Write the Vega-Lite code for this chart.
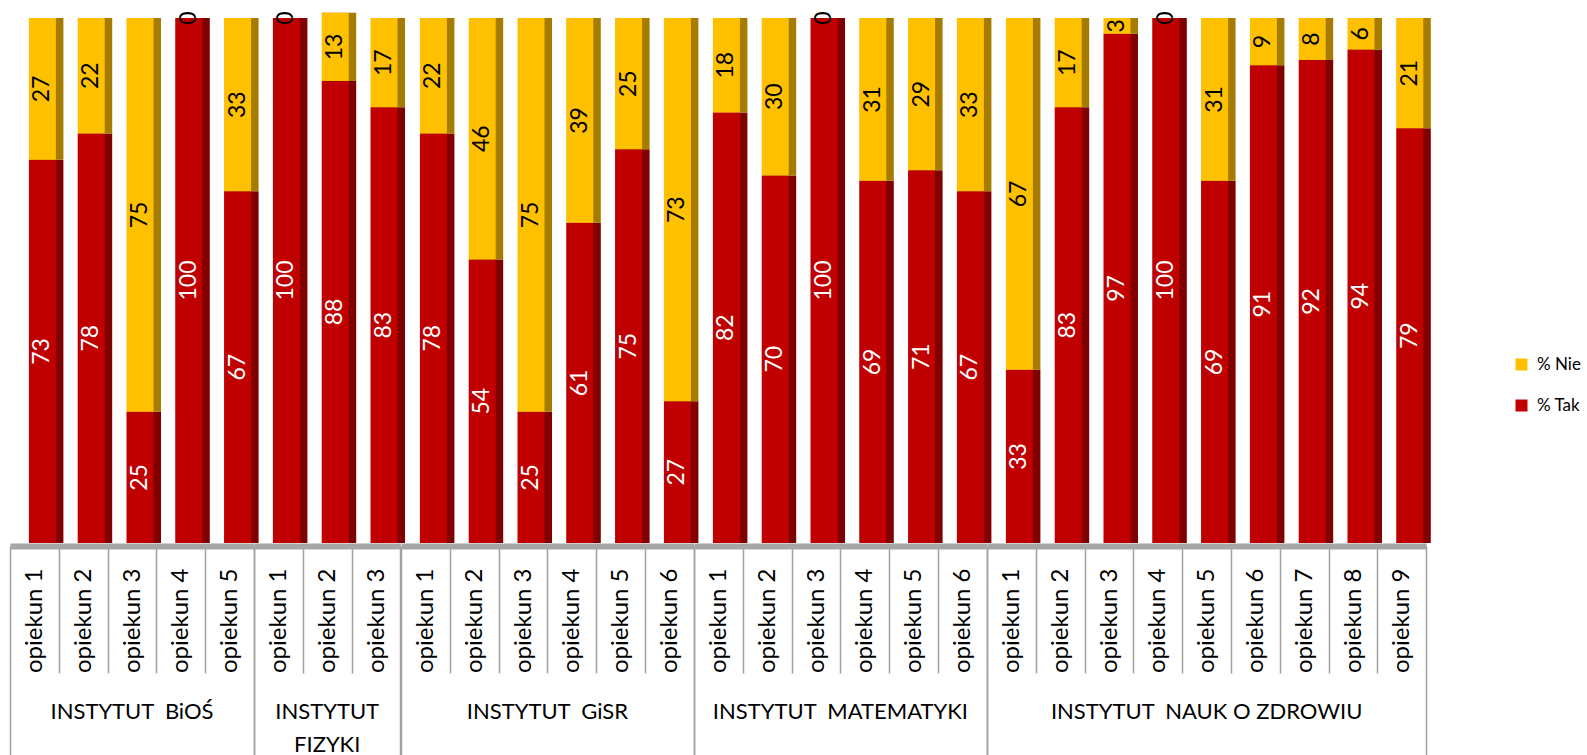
{
  "$schema": "https://vega.github.io/schema/vega-lite/v6.json",
  "padding": {"left": -2, "top": 11, "right": 0, "bottom": 0},
  "background": "white",
  "bounds": "flush",
  "data": {"values": [
    {"institute": "INSTYTUT  BiOŚ", "opiekun": "opiekun 1", "% Tak": 73, "% Nie": 27},
    {"institute": "INSTYTUT  BiOŚ", "opiekun": "opiekun 2", "% Tak": 78, "% Nie": 22},
    {"institute": "INSTYTUT  BiOŚ", "opiekun": "opiekun 3", "% Tak": 25, "% Nie": 75},
    {"institute": "INSTYTUT  BiOŚ", "opiekun": "opiekun 4", "% Tak": 100, "% Nie": 0},
    {"institute": "INSTYTUT  BiOŚ", "opiekun": "opiekun 5", "% Tak": 67, "% Nie": 33},
    {"institute": "INSTYTUT  FIZYKI", "opiekun": "opiekun 1", "% Tak": 100, "% Nie": 0},
    {"institute": "INSTYTUT  FIZYKI", "opiekun": "opiekun 2", "% Tak": 88, "% Nie": 13},
    {"institute": "INSTYTUT  FIZYKI", "opiekun": "opiekun 3", "% Tak": 83, "% Nie": 17},
    {"institute": "INSTYTUT  GiSR", "opiekun": "opiekun 1", "% Tak": 78, "% Nie": 22},
    {"institute": "INSTYTUT  GiSR", "opiekun": "opiekun 2", "% Tak": 54, "% Nie": 46},
    {"institute": "INSTYTUT  GiSR", "opiekun": "opiekun 3", "% Tak": 25, "% Nie": 75},
    {"institute": "INSTYTUT  GiSR", "opiekun": "opiekun 4", "% Tak": 61, "% Nie": 39},
    {"institute": "INSTYTUT  GiSR", "opiekun": "opiekun 5", "% Tak": 75, "% Nie": 25},
    {"institute": "INSTYTUT  GiSR", "opiekun": "opiekun 6", "% Tak": 27, "% Nie": 73},
    {"institute": "INSTYTUT  MATEMATYKI", "opiekun": "opiekun 1", "% Tak": 82, "% Nie": 18},
    {"institute": "INSTYTUT  MATEMATYKI", "opiekun": "opiekun 2", "% Tak": 70, "% Nie": 30},
    {"institute": "INSTYTUT  MATEMATYKI", "opiekun": "opiekun 3", "% Tak": 100, "% Nie": 0},
    {"institute": "INSTYTUT  MATEMATYKI", "opiekun": "opiekun 4", "% Tak": 69, "% Nie": 31},
    {"institute": "INSTYTUT  MATEMATYKI", "opiekun": "opiekun 5", "% Tak": 71, "% Nie": 29},
    {"institute": "INSTYTUT  MATEMATYKI", "opiekun": "opiekun 6", "% Tak": 67, "% Nie": 33},
    {"institute": "INSTYTUT  NAUK O ZDROWIU", "opiekun": "opiekun 1", "% Tak": 33, "% Nie": 67},
    {"institute": "INSTYTUT  NAUK O ZDROWIU", "opiekun": "opiekun 2", "% Tak": 83, "% Nie": 17},
    {"institute": "INSTYTUT  NAUK O ZDROWIU", "opiekun": "opiekun 3", "% Tak": 97, "% Nie": 3},
    {"institute": "INSTYTUT  NAUK O ZDROWIU", "opiekun": "opiekun 4", "% Tak": 100, "% Nie": 0},
    {"institute": "INSTYTUT  NAUK O ZDROWIU", "opiekun": "opiekun 5", "% Tak": 69, "% Nie": 31},
    {"institute": "INSTYTUT  NAUK O ZDROWIU", "opiekun": "opiekun 6", "% Tak": 91, "% Nie": 9},
    {"institute": "INSTYTUT  NAUK O ZDROWIU", "opiekun": "opiekun 7", "% Tak": 92, "% Nie": 8},
    {"institute": "INSTYTUT  NAUK O ZDROWIU", "opiekun": "opiekun 8", "% Tak": 94, "% Nie": 6},
    {"institute": "INSTYTUT  NAUK O ZDROWIU", "opiekun": "opiekun 9", "% Tak": 79, "% Nie": 21}
  ]},
  "transform": [{"fold": ["% Tak", "% Nie"], "as": ["series", "value"]}],
  "facet": {
    "column": {
      "field": "institute",
      "type": "nominal",
      "sort": ["INSTYTUT  BiOŚ", "INSTYTUT  FIZYKI", "INSTYTUT  GiSR", "INSTYTUT  MATEMATYKI", "INSTYTUT  NAUK O ZDROWIU"],
      "header": {
        "title": null,
        "labelOrient": "bottom",
        "labelFont": "Lato",
        "labelFontSize": 22,
        "labelColor": "black",
        "labelBaseline": "top",
        "labelLineHeight": 33,
        "labelPadding": 159,
        "labelExpr": "datum.value == 'INSTYTUT  FIZYKI' ? ['INSTYTUT', 'FIZYKI'] : replace(datum.value, '  ', '\u00a0 ')"
      }
    }
  },
  "spacing": 0,
  "resolve": {"scale": {"x": "independent"}},
  "spec": {
    "width": {"step": 48.8},
    "height": 525,
    "encoding": {
      "x": {
        "field": "opiekun", "type": "nominal",
        "scale": {"paddingInner": 0, "paddingOuter": 0},
        "axis": {
          "title": null,
          "labelAngle": -90,
          "labelFont": "Lato",
          "labelFontSize": 24,
          "labelColor": "black",
          "tickBand": "extent",
          "tickColor": "#a0a0a0",
          "tickWidth": 1.5,
          "tickSize": {"condition": {"test": "datum.extra || datum.index == 1", "value": 210}, "value": 127},
          "labelPadding": {"condition": {"test": "datum.index == 1", "value": -188}, "value": -105},
          "domainColor": "#a6a6a6",
          "domainWidth": 6,
          "offset": 3
        }
      },
      "y": {"field": "value", "type": "quantitative", "stack": "zero", "scale": {"domain": [0, 100]}, "axis": null},
      "detail": {"field": "series"},
      "order": {"field": "series", "sort": "descending"}
    },
    "layer": [
      {
        "mark": {"type": "bar", "width": 34, "xOffset": 12},
        "encoding": {
          "color": {"condition": {"test": "datum.series == '% Tak'", "value": "#800000"}, "value": "#a67c00"}
        }
      },
      {
        "mark": {"type": "bar", "width": 27, "xOffset": 8},
        "encoding": {
          "color": {
            "field": "series", "type": "nominal",
            "scale": {"domain": ["% Nie", "% Tak"], "range": ["#ffc000", "#c00000"]},
            "legend": {
              "title": null, "orient": "none", "legendX": 1503, "legendY": 338,
              "padding": 0, "symbolType": "square", "symbolSize": 144, "symbolStrokeWidth": 0,
              "labelFont": "Lato", "labelFontSize": 17, "labelColor": "black",
              "rowPadding": 23, "labelOffset": 7
            }
          }
        }
      },
      {
        "mark": {"type": "text", "angle": 270, "font": "Lato", "fontSize": 23, "align": "center", "baseline": "middle", "xOffset": 8},
        "encoding": {
          "y": {"field": "value", "type": "quantitative", "stack": "zero", "bandPosition": 0.5},
          "text": {"field": "value", "type": "quantitative"},
          "color": {"condition": {"test": "datum.series == '% Tak'", "value": "white"}, "value": "black"}
        }
      }
    ]
  },
  "config": {"view": {"stroke": null}}
}
